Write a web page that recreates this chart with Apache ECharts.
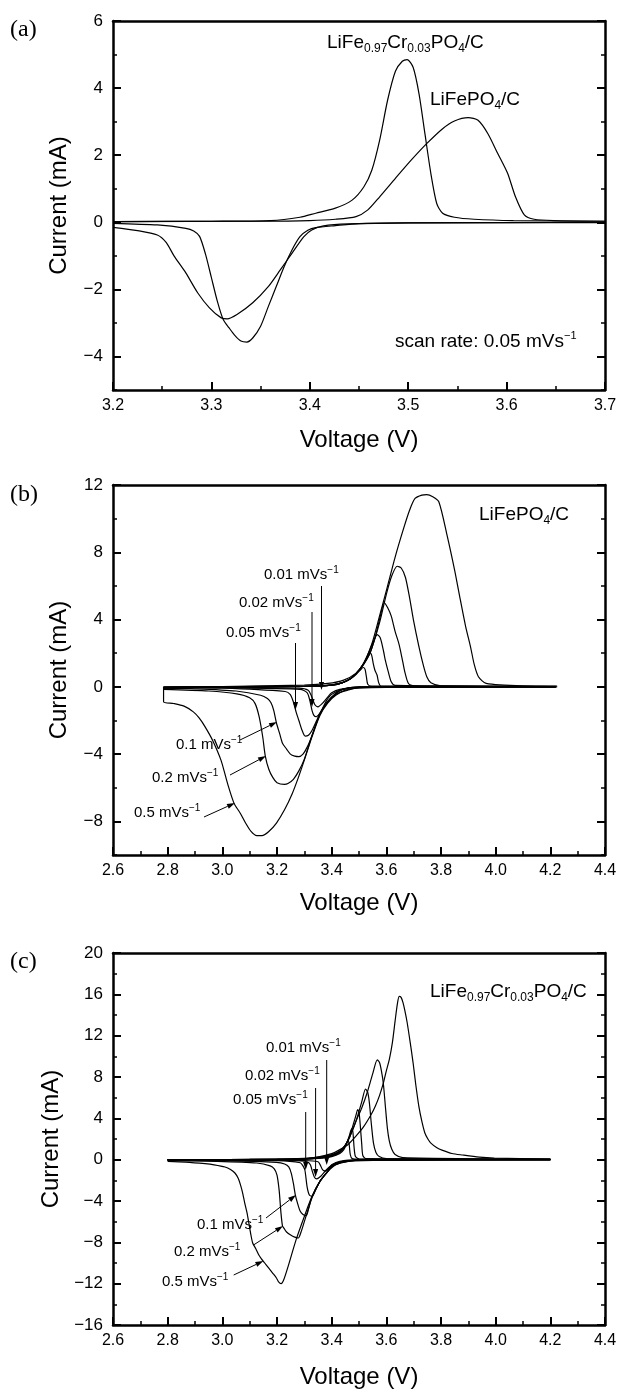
<!DOCTYPE html>
<html>
<head>
<meta charset="utf-8">
<script src="https://cdn.jsdelivr.net/npm/echarts@6/dist/echarts.min.js"></script>
<style>
  html, body { margin: 0; padding: 0; background: #fff; }
  #chart { width: 621px; height: 1390px; }
</style>
</head>
<body>
<div id="chart"></div>
<script>
// tick labels
const xTicksA = [3.2, 3.3, 3.4, 3.5, 3.6, 3.7];
const yTicksA = [-4, -2, 0, 2, 4, 6];
const xTicksBC = [2.6, 2.8, 3.0, 3.2, 3.4, 3.6, 3.8, 4.0, 4.2, 4.4];
const yTicksB = [-8, -4, 0, 4, 8, 12];
const yTicksC = [-16, -12, -8, -4, 0, 4, 8, 12, 16, 20];

// (a) scan rate 0.05 mV/s  [voltage, current]; anodic sweep then cathodic sweep
const aCr = [[3.2,0.02],[3.3,0.03],[3.36,0.05],[3.39,0.15],[3.406,0.27],[3.426,0.42],[3.443,0.66],[3.455,1.06],[3.463,1.55],[3.471,2.45],[3.479,3.63],[3.487,4.5],[3.494,4.8],[3.499,4.85],[3.505,4.62],[3.511,3.83],[3.517,2.64],[3.523,1.46],[3.529,0.56],[3.535,0.27],[3.547,0.15],[3.567,0.09],[3.607,0.05],[3.7,0.03],
  [3.7,0.0],[3.5,-0.02],[3.45,-0.04],[3.426,-0.1],[3.406,-0.16],[3.398,-0.24],[3.39,-0.43],[3.382,-0.82],[3.374,-1.32],[3.366,-1.91],[3.358,-2.5],[3.35,-3.1],[3.342,-3.45],[3.336,-3.57],[3.33,-3.54],[3.324,-3.38],[3.318,-3.15],[3.312,-2.9],[3.306,-2.35],[3.3,-1.65],[3.294,-0.95],[3.288,-0.42],[3.282,-0.26],[3.274,-0.18],[3.245,-0.08],[3.2,-0.03]];
const aLFP = [[3.2,0.02],[3.35,0.03],[3.4,0.05],[3.426,0.09],[3.447,0.17],[3.459,0.37],[3.471,0.76],[3.487,1.31],[3.503,1.85],[3.519,2.35],[3.535,2.79],[3.547,3.02],[3.561,3.12],[3.571,3.04],[3.581,2.64],[3.591,2.05],[3.601,1.46],[3.609,0.76],[3.618,0.22],[3.628,0.09],[3.648,0.05],[3.7,0.03],
  [3.7,-0.01],[3.5,-0.02],[3.439,-0.05],[3.414,-0.11],[3.402,-0.23],[3.394,-0.43],[3.382,-0.92],[3.37,-1.42],[3.358,-1.91],[3.342,-2.4],[3.326,-2.75],[3.316,-2.88],[3.31,-2.85],[3.298,-2.55],[3.286,-2.1],[3.274,-1.51],[3.262,-1.0],[3.254,-0.6],[3.245,-0.38],[3.225,-0.25],[3.2,-0.15]];

// (b) LiFePO4/C at several scan rates
const b001 = [[2.785,-0.05],[3.0,0.0],[3.3,0.02],[3.4,0.1],[3.44,0.25],[3.47,0.5],[3.49,0.8],[3.505,1.0],[3.515,1.15],[3.522,1.05],[3.527,0.6],[3.532,0.15],[3.545,0.04],[4.22,0.02],
  [4.22,0.0],[3.5,-0.02],[3.43,-0.15],[3.4,-0.35],[3.386,-0.6],[3.365,-1.0],[3.35,-1.19],[3.338,-1.05],[3.325,-0.5],[3.314,-0.2],[3.28,-0.08],[3.0,-0.03],[2.785,-0.02]];
const b002 = [[2.785,-0.05],[3.0,0.0],[3.3,0.02],[3.4,0.1],[3.44,0.25],[3.47,0.5],[3.49,0.8],[3.51,1.2],[3.525,1.6],[3.538,2.08],[3.546,1.9],[3.552,1.4],[3.558,1.0],[3.566,0.7],[3.572,0.25],[3.58,0.05],[4.22,0.02],
  [4.22,0.0],[3.5,-0.02],[3.44,-0.15],[3.4,-0.45],[3.38,-0.85],[3.36,-1.49],[3.343,-1.78],[3.335,-1.7],[3.328,-1.4],[3.32,-0.8],[3.31,-0.35],[3.285,-0.15],[3.0,-0.05],[2.785,-0.03]];
const b005 = [[2.785,-0.05],[3.0,0.0],[3.3,0.02],[3.4,0.1],[3.44,0.25],[3.47,0.5],[3.49,0.8],[3.51,1.2],[3.53,1.8],[3.55,2.6],[3.567,3.1],[3.578,2.9],[3.59,2.1],[3.596,1.6],[3.607,0.9],[3.618,0.3],[3.632,0.08],[4.22,0.02],
  [4.22,0.0],[3.5,-0.02],[3.44,-0.15],[3.415,-0.4],[3.386,-0.85],[3.357,-1.6],[3.328,-2.6],[3.315,-2.88],[3.303,-2.93],[3.292,-2.6],[3.28,-2.0],[3.27,-1.5],[3.26,-0.9],[3.248,-0.45],[3.23,-0.28],[3.0,-0.08],[2.785,-0.05]];
const b01 = [[2.785,-0.06],[3.0,0.0],[3.3,0.03],[3.4,0.1],[3.44,0.25],[3.47,0.5],[3.49,0.8],[3.51,1.2],[3.54,2.0],[3.56,3.0],[3.578,4.2],[3.592,5.0],[3.605,4.7],[3.618,4.2],[3.632,3.3],[3.647,2.5],[3.66,1.5],[3.669,0.8],[3.683,0.16],[3.72,0.04],[4.22,0.02],
  [4.22,0.0],[3.5,-0.02],[3.44,-0.15],[3.415,-0.4],[3.386,-0.9],[3.357,-1.6],[3.328,-2.9],[3.31,-3.6],[3.295,-4.0],[3.28,-4.15],[3.265,-4.12],[3.249,-4.0],[3.235,-3.7],[3.22,-3.35],[3.21,-2.8],[3.198,-2.15],[3.188,-1.4],[3.178,-0.95],[3.165,-0.7],[3.14,-0.5],[3.05,-0.25],[2.9,-0.12],[2.785,-0.08]];
const b02 = [[2.785,-0.08],[3.0,0.0],[3.3,0.05],[3.4,0.12],[3.44,0.25],[3.47,0.5],[3.49,0.75],[3.51,1.15],[3.54,2.0],[3.575,3.8],[3.6,5.5],[3.62,6.6],[3.64,7.17],[3.655,7.05],[3.67,6.5],[3.685,5.3],[3.7,3.9],[3.719,2.4],[3.735,1.3],[3.748,0.6],[3.763,0.24],[3.8,0.06],[4.22,0.03],
  [4.22,0.0],[3.5,-0.03],[3.459,-0.2],[3.415,-0.45],[3.386,-0.9],[3.357,-1.65],[3.328,-2.9],[3.3,-4.3],[3.28,-5.0],[3.26,-5.5],[3.24,-5.75],[3.227,-5.8],[3.2,-5.7],[3.185,-5.4],[3.17,-4.9],[3.157,-4.1],[3.148,-3.0],[3.135,-1.8],[3.12,-1.0],[3.1,-0.65],[3.053,-0.42],[2.95,-0.25],[2.785,-0.15]];
const b05 = [[2.785,0.0],[3.0,0.02],[3.3,0.1],[3.386,0.2],[3.444,0.4],[3.488,0.8],[3.517,1.4],[3.546,2.5],[3.575,4.2],[3.603,5.9],[3.632,7.7],[3.661,9.3],[3.685,10.5],[3.705,11.2],[3.73,11.4],[3.748,11.43],[3.77,11.3],[3.792,11.0],[3.821,9.1],[3.85,6.93],[3.871,5.15],[3.89,3.6],[3.908,2.38],[3.922,1.3],[3.937,0.6],[3.965,0.2],[4.1,0.06],[4.225,0.05],
  [4.225,0.0],[3.6,-0.03],[3.5,-0.08],[3.45,-0.2],[3.415,-0.5],[3.386,-0.95],[3.357,-1.7],[3.328,-2.97],[3.3,-4.36],[3.278,-5.4],[3.256,-6.34],[3.228,-7.3],[3.198,-8.1],[3.17,-8.6],[3.145,-8.85],[3.126,-8.85],[3.105,-8.6],[3.085,-8.1],[3.065,-7.5],[3.043,-6.93],[3.02,-5.8],[2.995,-4.36],[2.965,-3.2],[2.937,-2.38],[2.915,-1.85],[2.894,-1.49],[2.86,-1.15],[2.822,-0.99],[2.785,-0.89],[2.785,0.0]];

// (c) LiFe0.97Cr0.03PO4/C at several scan rates
const c001 = [[2.8,0.0],[3.2,0.02],[3.3,0.05],[3.35,0.12],[3.4,0.3],[3.43,0.6],[3.445,1.0],[3.455,1.6],[3.46,1.9],[3.464,1.5],[3.468,0.5],[3.475,0.1],[3.5,0.04],[4.2,0.02],
  [4.2,0.0],[3.5,-0.02],[3.43,-0.15],[3.4,-0.5],[3.388,-0.9],[3.378,-1.1],[3.37,-1.05],[3.365,-0.9],[3.358,-0.5],[3.35,-0.2],[3.3,-0.08],[3.0,-0.03],[2.8,-0.02]];
const c002 = [[2.8,0.0],[3.2,0.02],[3.3,0.06],[3.35,0.15],[3.4,0.35],[3.43,0.7],[3.45,1.3],[3.462,2.1],[3.47,2.8],[3.474,3.0],[3.478,2.6],[3.482,1.2],[3.487,0.3],[3.5,0.08],[4.2,0.02],
  [4.2,0.0],[3.5,-0.03],[3.43,-0.2],[3.4,-0.55],[3.38,-1.0],[3.36,-1.6],[3.345,-1.85],[3.337,-1.7],[3.33,-1.2],[3.322,-0.5],[3.31,-0.2],[3.25,-0.08],[3.0,-0.04],[2.8,-0.03]];
const c005 = [[2.8,0.0],[3.2,0.03],[3.3,0.07],[3.35,0.18],[3.4,0.4],[3.43,0.8],[3.45,1.4],[3.466,2.3],[3.48,3.5],[3.49,4.4],[3.495,4.84],[3.5,4.6],[3.505,3.2],[3.51,1.5],[3.514,0.4],[3.525,0.1],[4.2,0.02],
  [4.2,0.0],[3.5,-0.03],[3.43,-0.25],[3.4,-0.6],[3.386,-1.1],[3.357,-2.1],[3.34,-3.0],[3.328,-3.55],[3.318,-3.4],[3.31,-2.6],[3.302,-1.0],[3.295,-0.6],[3.285,-0.3],[3.2,-0.1],[2.8,-0.04]];
const c01 = [[2.8,0.0],[3.2,0.03],[3.3,0.08],[3.35,0.2],[3.4,0.45],[3.43,0.8],[3.45,1.4],[3.466,2.2],[3.49,3.8],[3.51,5.6],[3.524,6.84],[3.532,6.5],[3.538,5.5],[3.545,3.5],[3.553,1.6],[3.562,0.7],[3.574,0.3],[3.6,0.1],[4.2,0.03],
  [4.2,0.0],[3.5,-0.04],[3.43,-0.3],[3.4,-0.65],[3.386,-1.13],[3.357,-2.1],[3.328,-3.6],[3.315,-4.8],[3.307,-5.42],[3.295,-5.3],[3.285,-5.0],[3.275,-4.2],[3.267,-3.4],[3.26,-2.3],[3.252,-1.3],[3.243,-0.7],[3.228,-0.42],[3.198,-0.26],[3.0,-0.1],[2.8,-0.05]];
const c02 = [[2.8,0.0],[3.2,0.04],[3.3,0.12],[3.35,0.25],[3.4,0.5],[3.43,0.85],[3.45,1.4],[3.466,2.2],[3.49,3.8],[3.51,5.0],[3.53,6.5],[3.55,8.3],[3.567,9.65],[3.575,9.4],[3.582,8.6],[3.589,7.4],[3.597,5.0],[3.604,3.0],[3.611,1.8],[3.62,1.0],[3.632,0.5],[3.66,0.2],[4.2,0.04],
  [4.2,0.0],[3.5,-0.05],[3.43,-0.35],[3.4,-0.7],[3.386,-1.13],[3.357,-2.1],[3.328,-3.7],[3.3,-6.0],[3.288,-7.0],[3.278,-7.58],[3.265,-7.5],[3.25,-7.3],[3.235,-7.0],[3.227,-6.7],[3.22,-6.4],[3.214,-5.0],[3.208,-3.0],[3.2,-1.5],[3.19,-0.9],[3.175,-0.6],[3.126,-0.32],[2.98,-0.16],[2.8,-0.1]];
const c05 = [[2.8,0.0],[3.1,0.02],[3.27,0.06],[3.343,0.23],[3.4,0.58],[3.43,0.97],[3.459,1.45],[3.488,2.26],[3.517,3.2],[3.545,4.4],[3.56,5.2],[3.575,6.2],[3.589,7.4],[3.6,8.6],[3.611,9.7],[3.622,11.3],[3.632,13.4],[3.64,15.0],[3.647,15.8],[3.654,15.7],[3.661,15.2],[3.668,14.4],[3.676,13.3],[3.687,11.4],[3.698,9.35],[3.708,7.2],[3.719,5.16],[3.73,3.7],[3.741,2.58],[3.752,2.0],[3.763,1.6],[3.785,1.15],[3.806,0.9],[3.84,0.6],[3.879,0.45],[3.94,0.25],[3.995,0.16],[4.2,0.06],
  [4.2,-0.02],[3.6,-0.05],[3.459,-0.16],[3.415,-0.48],[3.386,-1.13],[3.357,-2.1],[3.328,-3.55],[3.3,-5.5],[3.27,-7.74],[3.241,-10.3],[3.225,-11.6],[3.215,-12.0],[3.205,-11.8],[3.198,-11.45],[3.184,-10.97],[3.17,-10.5],[3.155,-10.0],[3.143,-9.6],[3.133,-9.2],[3.122,-8.6],[3.111,-8.06],[3.104,-7.2],[3.097,-6.13],[3.09,-5.1],[3.082,-4.2],[3.075,-3.3],[3.068,-2.58],[3.058,-1.8],[3.046,-1.29],[3.03,-0.95],[3.01,-0.71],[2.97,-0.5],[2.937,-0.39],[2.865,-0.23],[2.8,-0.16]];

const sans = '"Liberation Sans", Arial, Helvetica, sans-serif';
const serif = '"Liberation Serif", "Times New Roman", serif';

const panels = [
  { grid: { left: 113, width: 492, top: 21, height: 369 }, x: [3.2, 3.7, 0.05], y: [-5, 6, 1], xt: xTicksA, yt: yTicksA, xGap: 38 },
  { grid: { left: 113, width: 492, top: 485, height: 370 }, x: [2.6, 4.4, 0.1], y: [-10, 12, 2], xt: xTicksBC, yt: yTicksB, xGap: 36 },
  { grid: { left: 113, width: 492, top: 953, height: 372 }, x: [2.6, 4.4, 0.1], y: [-16, 20, 2], xt: xTicksBC, yt: yTicksC, xGap: 40 }
];

const frame = { show: true, onZero: false, lineStyle: { color: '#000', width: 2.5 } };
const noLine = { show: false, onZero: false };
const minorTick = { show: true, inside: true, length: 4, lineStyle: { color: '#000', width: 1.5 } };
const majorTick = (vals) => ({ show: true, inside: true, length: 8, customValues: vals, lineStyle: { color: '#000', width: 2 } });
const fmtY = (v) => (v < 0 ? '\u2212' + Math.abs(v) : String(v));

const xAxes = [], yAxes = [];
panels.forEach((p, i) => {
  const xb = { type: 'value', gridIndex: i, min: p.x[0], max: p.x[1], interval: p.x[2], splitLine: { show: false } };
  const yb = { type: 'value', gridIndex: i, min: p.y[0], max: p.y[1], interval: p.y[2], splitLine: { show: false } };
  xAxes.push(Object.assign({}, xb, {
    position: 'bottom', axisLine: frame, axisTick: minorTick,
    axisLabel: { customValues: p.xt, formatter: (v) => v.toFixed(1), fontSize: 16, fontFamily: sans, color: '#000', margin: 8 },
    name: 'Voltage (V)', nameLocation: 'middle', nameGap: p.xGap,
    nameTextStyle: { fontSize: 24, fontFamily: sans, color: '#000' }
  }));
  xAxes.push(Object.assign({}, xb, { position: 'bottom', axisLine: noLine, axisTick: majorTick(p.xt), axisLabel: { show: false } }));
  xAxes.push(Object.assign({}, xb, { position: 'top', axisLine: frame, axisTick: { show: false }, axisLabel: { show: false } }));

  yAxes.push(Object.assign({}, yb, {
    position: 'left', axisLine: frame, axisTick: minorTick,
    axisLabel: { customValues: p.yt, formatter: fmtY, fontSize: 17, fontFamily: sans, color: '#000', margin: 10 },
    name: 'Current (mA)', nameLocation: 'middle', nameGap: 42,
    nameTextStyle: { fontSize: 24, fontFamily: sans, color: '#000' }
  }));
  yAxes.push(Object.assign({}, yb, { position: 'left', axisLine: noLine, axisTick: majorTick(p.yt), axisLabel: { show: false } }));
  yAxes.push(Object.assign({}, yb, { position: 'right', axisLine: frame, axisTick: minorTick, axisLabel: { show: false } }));
  yAxes.push(Object.assign({}, yb, { position: 'right', axisLine: noLine, axisTick: majorTick(p.yt), axisLabel: { show: false } }));
});

const curves = [
  [0, 'LiFe0.97Cr0.03PO4/C', aCr], [0, 'LiFePO4/C', aLFP],
  [1, '0.01', b001], [1, '0.02', b002], [1, '0.05', b005], [1, '0.1', b01], [1, '0.2', b02], [1, '0.5', b05],
  [2, '0.01', c001], [2, '0.02', c002], [2, '0.05', c005], [2, '0.1', c01], [2, '0.2', c02], [2, '0.5', c05]
];

// split each loop at the upper vertex: anodic and cathodic branches are drawn separately
function branches(data) {
  let k = 0;
  data.forEach((d, j) => { if (d[0] > data[k][0]) k = j; });
  return [data.slice(0, k + 1), data.slice(k + 1)];
}
const series = [];
curves.forEach(([pi, name, data]) => {
  branches(data).forEach((part) => {
    series.push({
      type: 'line', name: name, xAxisIndex: pi * 3, yAxisIndex: pi * 4, data: part,
      showSymbol: false, symbol: 'none', smooth: 0.25, clip: true,
      lineStyle: { color: '#000', width: 1.2 }
    });
  });
});

// annotation helpers
function richStyle(m, s) {
  return {
    m: { fontSize: m, fontFamily: sans, color: '#000', lineHeight: m + 4 },
    s: { fontSize: s, fontFamily: sans, color: '#000', lineHeight: s - 2, verticalAlign: 'bottom' },
    p: { fontSize: s - 1, fontFamily: sans, color: '#000', lineHeight: s - 1, verticalAlign: 'top' }
  };
}
function label(x, y, text, m, s) {
  return { type: 'text', x: x, y: y, style: { text: text, rich: richStyle(m, s), verticalAlign: 'middle', align: 'left' }, z: 10 };
}
function arrow(x1, y1, x2, y2) {
  const a = Math.atan2(y2 - y1, x2 - x1), L = 8, W = 2.6;
  const bx = x2 - L * Math.cos(a), by = y2 - L * Math.sin(a);
  return { type: 'group', z: 10, children: [
    { type: 'line', shape: { x1: x1, y1: y1, x2: bx, y2: by }, style: { stroke: '#000', lineWidth: 1 } },
    { type: 'polygon', shape: { points: [[x2, y2], [bx + W * Math.sin(a), by - W * Math.cos(a)], [bx - W * Math.sin(a), by + W * Math.cos(a)]] }, style: { fill: '#000' } }
  ] };
}
const crName = '{m|LiFe}{s|0.97}{m|Cr}{s|0.03}{m|PO}{s|4}{m|/C}';
const lfpName = '{m|LiFePO}{s|4}{m|/C}';
const rate = (r) => '{m|' + r + ' mVs}{p|\u22121}';

const graphic = [
  { type: 'text', x: 10, y: 30, style: { text: '(a)', font: '24px ' + serif, fill: '#000', verticalAlign: 'middle' } },
  { type: 'text', x: 10, y: 495, style: { text: '(b)', font: '24px ' + serif, fill: '#000', verticalAlign: 'middle' } },
  { type: 'text', x: 10, y: 962, style: { text: '(c)', font: '24px ' + serif, fill: '#000', verticalAlign: 'middle' } },
  label(327, 43, crName, 19, 12),
  label(430, 100, lfpName, 19, 12),
  label(395, 342, '{m|scan rate: 0.05 mVs}{p|\u22121}', 19, 12),
  label(479, 515, lfpName, 19, 12),
  label(264, 575, rate('0.01'), 15, 11),
  label(239, 603, rate('0.02'), 15, 11),
  label(226, 633, rate('0.05'), 15, 11),
  label(176, 745, rate('0.1'), 15, 11),
  label(152, 778, rate('0.2'), 15, 11),
  label(134, 813, rate('0.5'), 15, 11),
  arrow(321.5, 586, 321.5, 690), arrow(312, 612, 312, 707), arrow(295.5, 643, 295.5, 710),
  arrow(240, 740, 277, 722), arrow(230, 775, 266, 756), arrow(204, 817, 235, 803),
  label(430, 992, crName, 19, 12),
  label(266, 1048, rate('0.01'), 15, 11),
  label(245, 1076, rate('0.02'), 15, 11),
  label(233, 1100, rate('0.05'), 15, 11),
  label(197, 1225, rate('0.1'), 15, 11),
  label(174, 1252, rate('0.2'), 15, 11),
  label(162, 1282, rate('0.5'), 15, 11),
  arrow(326.7, 1060, 326.7, 1165), arrow(315.6, 1088, 315.6, 1177), arrow(305.7, 1112, 305.7, 1170),
  arrow(266, 1218, 296, 1195), arrow(253.5, 1245, 283, 1226), arrow(233.7, 1275, 263.4, 1261)
];

const chart = echarts.init(document.getElementById('chart'));
chart.setOption({
  animation: false,
  backgroundColor: '#fff',
  grid: panels.map((p) => p.grid),
  xAxis: xAxes,
  yAxis: yAxes,
  series: series,
  graphic: graphic
});
</script>
</body>
</html>
